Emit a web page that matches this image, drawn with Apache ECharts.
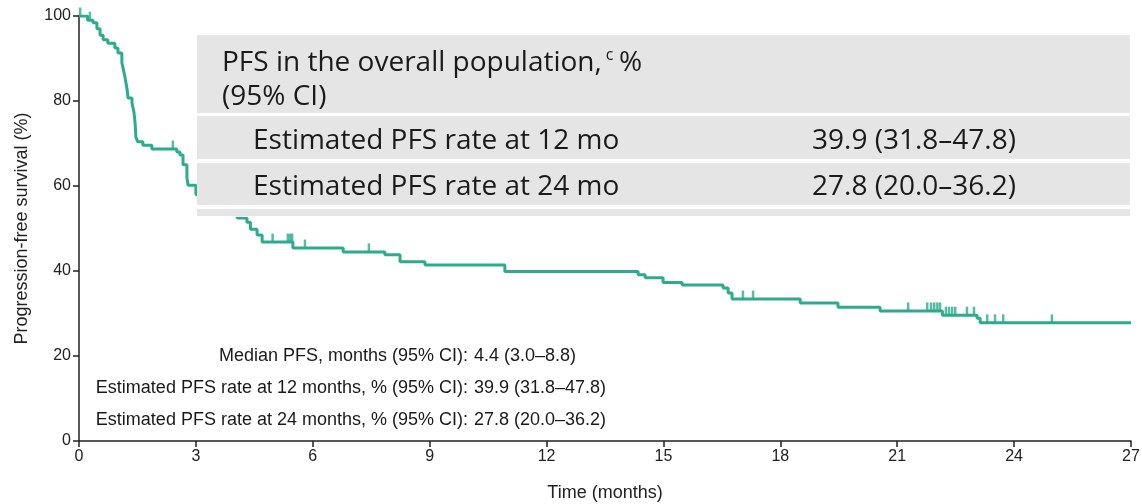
<!DOCTYPE html>
<html>
<head>
<meta charset="utf-8">
<script src="https://cdn.jsdelivr.net/npm/echarts@6/dist/echarts.min.js"></script>
<style>
  html, body { margin: 0; padding: 0; background: #fff; }
  #chart { width: 1142px; height: 504px; }
</style>
</head>
<body>
<div id="chart"></div>
<script>
// Kaplan–Meier progression-free survival, overall population
// Step points: [time (months), survival (%)] — survival holds until the next time
const kmTimes = [0, 0.22, 0.36, 0.46, 0.54, 0.62, 0.74, 0.92, 1.00, 1.10, 1.13, 1.18, 1.23, 1.26,
  1.36, 1.41, 1.44, 1.46, 1.51, 1.64, 1.87, 2.51, 2.59, 2.67, 2.77, 2.80, 3.00, 3.30, 3.60, 3.85,
  4.06, 4.31, 4.40, 4.57, 4.70, 5.49, 6.78, 7.85, 8.24, 8.88, 10.93, 14.35, 14.53, 14.99, 15.48,
  16.53, 16.66, 16.76, 18.51, 19.48, 20.56, 22.16, 23.05, 23.13, 27.0];
const kmSurvival = [100, 99.0, 98.4, 97.0, 95.5, 94.4, 93.6, 92.5, 91.3, 89.0, 87.8, 85.6, 83.0, 80.7,
  79.5, 77.4, 74.8, 71.5, 70.4, 69.6, 68.7, 68.0, 67.3, 65.0, 62.0, 60.2, 58.0, 56.5, 55.0, 53.8,
  52.5, 51.5, 49.8, 48.5, 46.8, 45.4, 44.5, 43.8, 42.2, 41.4, 39.9, 39.1, 38.4, 37.3, 36.7,
  36.0, 34.8, 33.4, 32.5, 31.5, 30.6, 29.6, 28.9, 27.8, 27.8];

// Censored observations
const censorTimes = [0.03, 0.28, 2.41, 4.97, 5.36, 5.42, 5.47, 5.80, 7.44, 17.04, 17.30,
  21.28, 21.77, 21.87, 21.95, 22.03, 22.10, 22.25, 22.33, 22.41, 22.49, 22.79, 22.97,
  23.31, 23.51, 23.72, 24.97];
const censorSurvival = [100, 99.0, 68.7, 46.8, 46.8, 46.8, 46.8, 45.4, 44.5, 33.4, 33.4,
  30.6, 30.6, 30.6, 30.6, 30.6, 30.6, 29.6, 29.6, 29.6, 29.6, 29.6, 29.6,
  27.8, 27.8, 27.8, 27.8];

// Axis ticks
const xTicks = [0, 3, 6, 9, 12, 15, 18, 21, 24, 27];
const yTicks = [0, 20, 40, 60, 80, 100];

// Summary table
const tableHeader = ['PFS in the overall population,', ' %', '(95% CI)'];
const tableFootnote = 'c';
const tableLabels = ['Estimated PFS rate at 12 mo', 'Estimated PFS rate at 24 mo'];
const tableValues = ['39.9 (31.8–47.8)', '27.8 (20.0–36.2)'];

// In-plot annotations
const noteLabels = ['Median PFS, months (95% CI):',
  'Estimated PFS rate at 12 months, % (95% CI):',
  'Estimated PFS rate at 24 months, % (95% CI):'];
const noteValues = ['4.4 (3.0–8.8)', '39.9 (31.8–47.8)', '27.8 (20.0–36.2)'];

const teal = '#2cab8e';
const gray = '#e5e5e5';
const axisColor = '#222';
const tableFont = '"Open Sans"';
const tableSize = 28;
const noteFont = '18px "Liberation Sans", Arial';

const chart = echarts.init(document.getElementById('chart'), null, { renderer: 'canvas' });

const kmData = kmTimes.map((t, i) => [t, kmSurvival[i]]);
const censorData = censorTimes.map((t, i) => [t, censorSurvival[i]]);

// text width helper for placing the superscript after the header line
const measureCtx = document.createElement('canvas').getContext('2d');
function textWidth(txt, font) { measureCtx.font = font; return measureCtx.measureText(txt).width; }

const graphics = [];
// table: white backing (gaps between bands) plus gray bands
const tblX = 197, tblW = 933;
graphics.push({ type: 'rect', left: tblX, top: 33, shape: { width: tblW, height: 184 },
  style: { fill: '#fff' }, z: 99 });
const bands = [[35, 78], [116, 43], [163, 42], [209, 7]];
bands.forEach(([y, h]) => {
  graphics.push({ type: 'rect', left: tblX, top: y, shape: { width: tblW, height: h },
    style: { fill: gray }, z: 100 });
});
const tFont = tableSize + 'px ' + tableFont;
const tStyle = (txt, font) => ({ text: txt, fill: '#1a1a1a', font: font, textVerticalAlign: 'middle' });
const headW = textWidth(tableHeader[0], tFont);
graphics.push({ type: 'text', x: 222, y: 63, style: tStyle(tableHeader[0], tFont), z: 101 });
graphics.push({ type: 'text', x: 222 + headW + 4, y: 55, style: tStyle(tableFootnote, '16px ' + tableFont), z: 101 });
graphics.push({ type: 'text', x: 222 + headW + 10, y: 63, style: tStyle(tableHeader[1], tFont), z: 101 });
graphics.push({ type: 'text', x: 222, y: 97, style: tStyle(tableHeader[2], tFont), z: 101 });
tableLabels.forEach((lab, i) => {
  const cy = [141, 187][i];
  graphics.push({ type: 'text', x: 253, y: cy, style: tStyle(lab, tFont), z: 101 });
  graphics.push({ type: 'text', x: 812, y: cy, style: tStyle(tableValues[i], tFont), z: 101 });
});
// annotations
noteLabels.forEach((lab, i) => {
  const cy = [356, 388, 420][i];
  graphics.push({ type: 'text', x: 468, y: cy, style: { text: lab, fill: '#1a1a1a',
    font: noteFont, textAlign: 'right', textVerticalAlign: 'middle' }, z: 101 });
  graphics.push({ type: 'text', x: 474, y: cy, style: { text: noteValues[i], fill: '#1a1a1a',
    font: noteFont, textAlign: 'left', textVerticalAlign: 'middle' }, z: 101 });
});

chart.setOption({
  animation: false,
  grid: { left: 79, right: 11, top: 16, bottom: 63, outerBoundsMode: 'none', containLabel: false },
  xAxis: {
    type: 'value', min: xTicks[0], max: xTicks[xTicks.length - 1], interval: 3,
    name: 'Time (months)', nameLocation: 'middle', nameGap: 43,
    nameTextStyle: { color: '#222', fontSize: 18, fontFamily: 'Liberation Sans' },
    axisLine: { lineStyle: { color: axisColor, width: 1.5 } },
    axisTick: { length: 6, lineStyle: { color: axisColor, width: 1.5 } },
    axisLabel: { color: '#222', fontSize: 16, fontFamily: 'Liberation Sans', margin: 8 },
    splitLine: { show: false }
  },
  yAxis: {
    type: 'value', min: yTicks[0], max: yTicks[yTicks.length - 1], interval: 20,
    name: 'Progression-free survival (%)', nameLocation: 'middle', nameGap: 48, nameRotate: 90,
    nameTextStyle: { color: '#222', fontSize: 18, fontFamily: 'Liberation Sans' },
    axisLine: { show: true, lineStyle: { color: axisColor, width: 1.5 } },
    axisTick: { show: true, length: 6, lineStyle: { color: axisColor, width: 1.5 } },
    axisLabel: { color: '#222', fontSize: 16, fontFamily: 'Liberation Sans', margin: 8 },
    splitLine: { show: false }
  },
  series: [
    {
      type: 'line', step: 'end', data: kmData, showSymbol: false, symbol: 'none',
      lineStyle: { color: teal, width: 3 }, z: 2
    },
    {
      type: 'scatter', data: censorData, symbol: 'rect', symbolSize: [2.5, 9],
      symbolOffset: [0, -4], itemStyle: { color: teal }, z: 3
    }
  ],
  graphic: graphics
});
</script>
</body>
</html>
